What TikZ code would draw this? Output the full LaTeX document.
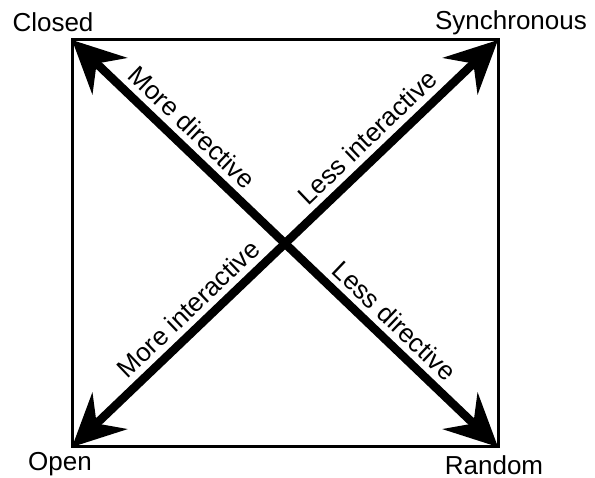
\documentclass[tikz,border=0pt]{standalone}
\usepackage{fontspec}
\setmainfont{Liberation Sans}
\usetikzlibrary{arrows.meta}
\tikzset{
  frame/.style={draw=black, line width=3pt},
  pole/.style={font=\fontsize{26}{30}\selectfont, inner sep=0pt, anchor=base},
  trend/.style={{Stealth[length=52pt,width=50pt,inset=18pt]}-{Stealth[length=52pt,width=50pt,inset=18pt]}, line width=8.5pt},
  cue/.style={font=\fontsize{26}{30}\selectfont, sloped, anchor=south, inner xsep=0pt, inner ysep=6pt},
}
\begin{document}
\begin{tikzpicture}[x=1pt,y=-1pt]
    \useasboundingbox (0,0) rectangle (595,478);
    \coordinate (nw) at (72,40);
    \coordinate (ne) at (498,40);
    \coordinate (sw) at (72,447);
    \coordinate (se) at (498,447);
    \draw[frame] (nw) rectangle (se);
    \node[pole] (closed) at (53,32) {Closed};
    \node[pole] (sync) at (511,30) {Synchronous};
    \node[pole] (open) at (60,471) {Open};
    \node[pole] (random) at (494,475) {Random};
    \draw[trend] (nw) -- node[cue, pos=0.25] (moredir) {More directive} node[cue, pos=0.725] (lessdir) {Less directive} (se);
    \draw[trend] (sw) -- node[cue, pos=0.305] (moreint) {More interactive} node[cue, pos=0.725] (lessint) {Less interactive} (ne);
\end{tikzpicture}
\end{document}
